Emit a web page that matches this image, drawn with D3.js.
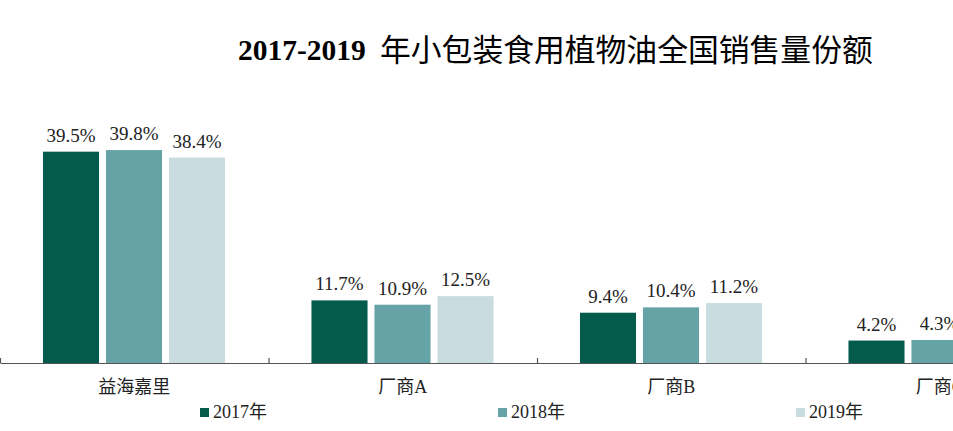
<!DOCTYPE html>
<html>
<head>
<meta charset="utf-8">
<script src="https://cdn.jsdelivr.net/npm/d3@7"></script>
<style>
  html, body { margin: 0; padding: 0; background: #fff; overflow: hidden; }
  svg { display: block; }
</style>
</head>
<body>
<svg id="chart" width="953" height="431"></svg>
<script>
const categories = ["益海嘉里", "厂商A", "厂商B", "厂商C"];
const seriesNames = ["2017年", "2018年", "2019年"];
const values2017 = [39.5, 11.7, 9.4, 4.2];
const values2018 = [39.8, 10.9, 10.4, 4.3];
const values2019 = [38.4, 12.5, 11.2, null];
const colors = ["#035B4B", "#66A3A6", "#C9DDE0"];
const titleLatin = "2017-2019";
const titleCJK = "年小包装食用植物油全国销售量份额";

const series = [values2017, values2018, values2019];
const svg = d3.select("#chart");
const serif = "'Liberation Serif', 'Times New Roman', 'Noto Sans CJK SC', serif";
const baseY = 363;

const x0 = d3.scaleBand().domain(categories).range([0, 1074]).padding(0);
const x1 = d3.scaleBand().domain(seriesNames).range([39.5, 228.5]).paddingInner(0.11).paddingOuter(0.055);
const y = d3.scaleLinear().domain([0, 40]).range([baseY, baseY - 214]);

// title
svg.append("text")
  .attr("x", 238).attr("y", 60)
  .attr("font-family", serif)
  .attr("font-size", 29.5)
  .attr("font-weight", "bold")
  .attr("fill", "#000")
  .text(titleLatin);
svg.append("text")
  .attr("x", 380).attr("y", 61)
  .attr("font-family", "'Noto Sans CJK SC', sans-serif")
  .attr("font-size", 30.8)
  .attr("fill", "#000")
  .text(titleCJK);

// bars
const groups = svg.append("g").selectAll("g")
  .data(categories)
  .join("g")
  .attr("transform", d => `translate(${x0(d)},0)`);

groups.each(function(cat, ci) {
  const g = d3.select(this);
  const items = seriesNames.map((s, si) => ({ s, si, v: series[si][ci] })).filter(d => d.v != null);
  g.selectAll("rect").data(items).join("rect")
    .attr("x", d => x1(d.s))
    .attr("y", d => y(d.v))
    .attr("width", x1.bandwidth())
    .attr("height", d => baseY - y(d.v))
    .attr("fill", d => colors[d.si]);
  g.selectAll("text.lbl").data(items).join("text")
    .attr("class", "lbl")
    .attr("x", d => x1(d.s) + x1.bandwidth() / 2)
    .attr("y", d => y(d.v) - 10)
    .attr("text-anchor", "middle")
    .attr("font-family", serif)
    .attr("font-size", 19)
    .attr("fill", "#222")
    .text(d => d.v.toFixed(1) + "%");
});

// x axis
const axis = d3.axisBottom(x0).tickSize(0).tickPadding(0);
const ax = svg.append("g").attr("transform", `translate(0,${baseY})`).call(axis);
ax.select(".domain").attr("stroke", "#555").attr("stroke-width", 1.2);
ax.selectAll(".tick text")
  .attr("dy", 0).attr("y", 30)
  .attr("font-family", serif)
  .attr("font-size", 18)
  .attr("fill", "#222");
// boundary ticks pointing up
const boundaries = categories.map(c => x0(c));
ax.selectAll("line.bt").data(boundaries).join("line")
  .attr("class", "bt")
  .attr("x1", d => d + 0.5).attr("x2", d => d + 0.5)
  .attr("y1", 0).attr("y2", -5)
  .attr("stroke", "#555").attr("stroke-width", 1.2);

// legend
const legendX = [200, 498, 796];
const lg = svg.append("g").selectAll("g").data(seriesNames).join("g")
  .attr("transform", (d, i) => `translate(${legendX[i]},408)`);
lg.append("rect").attr("width", 9).attr("height", 9).attr("fill", (d, i) => colors[i]);
lg.append("text").attr("x", 13).attr("y", 10)
  .attr("font-family", serif).attr("font-size", 18).attr("fill", "#222")
  .text(d => d);
</script>
</body>
</html>
